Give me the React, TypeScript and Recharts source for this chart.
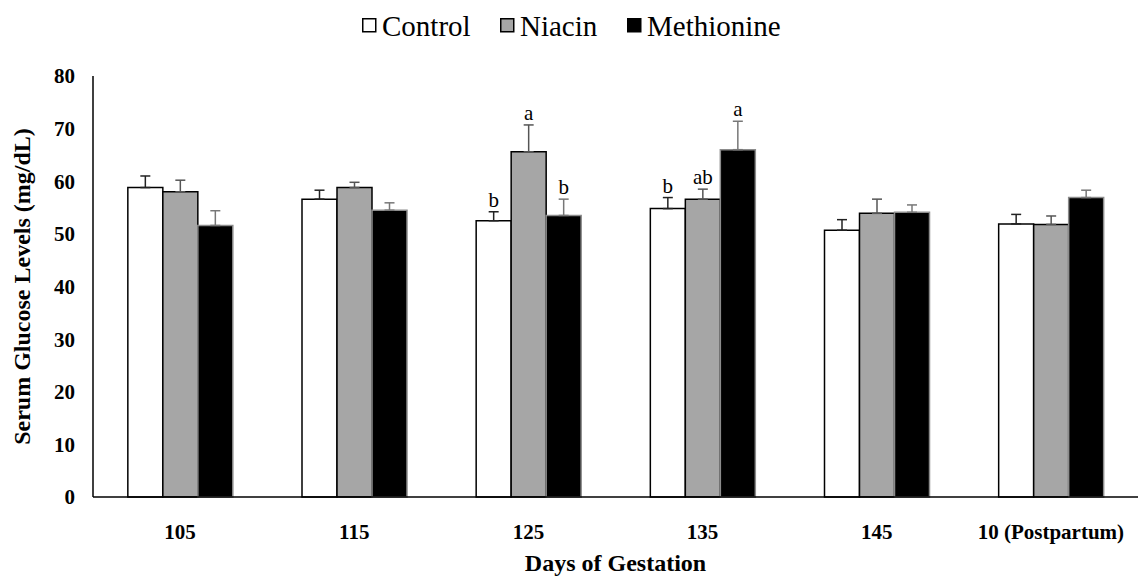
import React from 'react';
import { BarChart, Bar, XAxis, YAxis, ErrorBar, LabelList, Label } from 'recharts';

// Days of gestation
const categories = ['105', '115', '125', '135', '145', '10 (Postpartum)'];

// Means (mg/dL)
const control = [58.8, 56.6, 52.5, 54.8, 50.7, 51.9];
const niacin = [58.0, 58.8, 65.6, 56.6, 53.9, 51.8];
const methionine = [51.6, 54.5, 53.5, 66.0, 54.1, 56.9];

// SEM (only upper whisker drawn)
const controlErr = [2.2, 1.7, 1.7, 2.1, 2.0, 1.8];
const niacinErr = [2.2, 1.0, 5.1, 1.9, 2.7, 1.6];
const methionineErr = [2.8, 1.4, 3.1, 5.4, 1.4, 1.4];

// significance letters
const controlSig = ['', '', 'b', 'b', '', ''];
const niacinSig = ['', '', 'a', 'ab', '', ''];
const methionineSig = ['', '', 'b', 'a', '', ''];

const yTicks = [0, 10, 20, 30, 40, 50, 60, 70, 80];

const series = [
  { key: 'control', name: 'Control', fill: '#ffffff', stroke: '#000000', errStroke: '#222222', sig: controlSig, err: controlErr, legendX: 362 },
  { key: 'niacin', name: 'Niacin', fill: '#a6a6a6', stroke: '#000000', errStroke: '#555555', sig: niacinSig, err: niacinErr, legendX: 500 },
  { key: 'methionine', name: 'Methionine', fill: '#000000', stroke: '#8c8c8c', errStroke: '#777777', sig: methionineSig, err: methionineErr, legendX: 627 },
];

const W = 1140;
const H = 577;
const TOP = 76;
const X_AXIS_H = 80;
const PLOT_H = H - TOP - X_AXIS_H;
const Y_MAX = 80;
const FONT = 'Liberation Serif';

const chartData = categories.map((day, i) => ({
  day,
  control: control[i],
  niacin: niacin[i],
  methionine: methionine[i],
  controlErr: [0, controlErr[i]],
  niacinErr: [0, niacinErr[i]],
  methionineErr: [0, methionineErr[i]],
}));

const sigLabel = (sig: string[], err: number[]) => (props: any) => {
  const { x, y, width, index } = props;
  const text = sig[index];
  if (!text) return null;
  const top = y - (err[index] * PLOT_H) / Y_MAX;
  return (
    <text x={x + width / 2} y={top - 5} textAnchor="middle" style={{ fontFamily: FONT }} fontSize={21} fill="#000">
      {text}
    </text>
  );
};

const App: React.FC = () => {
  return (
    <div style={{ position: 'absolute', left: 0, top: 0, width: W, height: H, background: '#fff' }}>
      <svg width={W} height={50} style={{ position: 'absolute', left: 0, top: 0 }}>
        {series.map(s => (
          <g key={s.key}>
            <rect x={s.legendX + 0.75} y={18.75} width={13} height={13} fill={s.fill} stroke="#000" strokeWidth={1.5} />
            <text x={s.legendX + 20} y={36} style={{ fontFamily: FONT, fontSize: 29, fontWeight: 400 }} fill="#000">
              {s.name}
            </text>
          </g>
        ))}
      </svg>
      <BarChart
        width={W}
        height={H}
        data={chartData}
        margin={{ top: TOP, right: 2, left: 0, bottom: 0 }}
        barCategoryGap="20%"
        barGap={0}
      >
        <XAxis
          dataKey="day"
          height={X_AXIS_H}
          axisLine={{ stroke: '#000', strokeWidth: 1.5 }}
          tickLine={false}
          tickSize={0}
          tickMargin={27}
          tick={{ fill: '#000', fontSize: 21, fontWeight: 'bold', fontFamily: FONT }}
          interval={0}
        >
          <Label
            value="Days of Gestation"
            position="insideBottom"
            offset={6}
            style={{ fill: '#000', fontSize: 24, fontWeight: 'bold', fontFamily: FONT }}
          />
        </XAxis>
        <YAxis
          domain={[0, Y_MAX]}
          ticks={yTicks}
          width={93}
          axisLine={{ stroke: '#000', strokeWidth: 1.5 }}
          tickLine={false}
          tickSize={0}
          tickMargin={18}
          tick={{ fill: '#000', fontSize: 21, fontWeight: 'bold', fontFamily: FONT }}
        >
          <Label
            content={({ viewBox }: any) => {
              const cy = viewBox.y + viewBox.height / 2;
              return (
                <text
                  x={22}
                  y={cy}
                  transform={`rotate(-90, 22, ${cy})`}
                  textAnchor="middle"
                  dominantBaseline="central"
                  style={{ fontFamily: FONT, fontSize: 24, fontWeight: 'bold' }}
                  fill="#000"
                >
                  Serum Glucose Levels (mg/dL)
                </text>
              );
            }}
          />
        </YAxis>
        {series.map(s => (
          <Bar
            key={s.key}
            dataKey={s.key}
            name={s.name}
            fill={s.fill}
            stroke={s.stroke}
            strokeWidth={1.5}
            isAnimationActive={false}
          >
            <ErrorBar dataKey={`${s.key}Err`} width={5} stroke={s.errStroke} strokeWidth={1.5} direction="y" />
            <LabelList dataKey={s.key} content={sigLabel(s.sig, s.err)} />
          </Bar>
        ))}
      </BarChart>
    </div>
  );
};

export default App;
